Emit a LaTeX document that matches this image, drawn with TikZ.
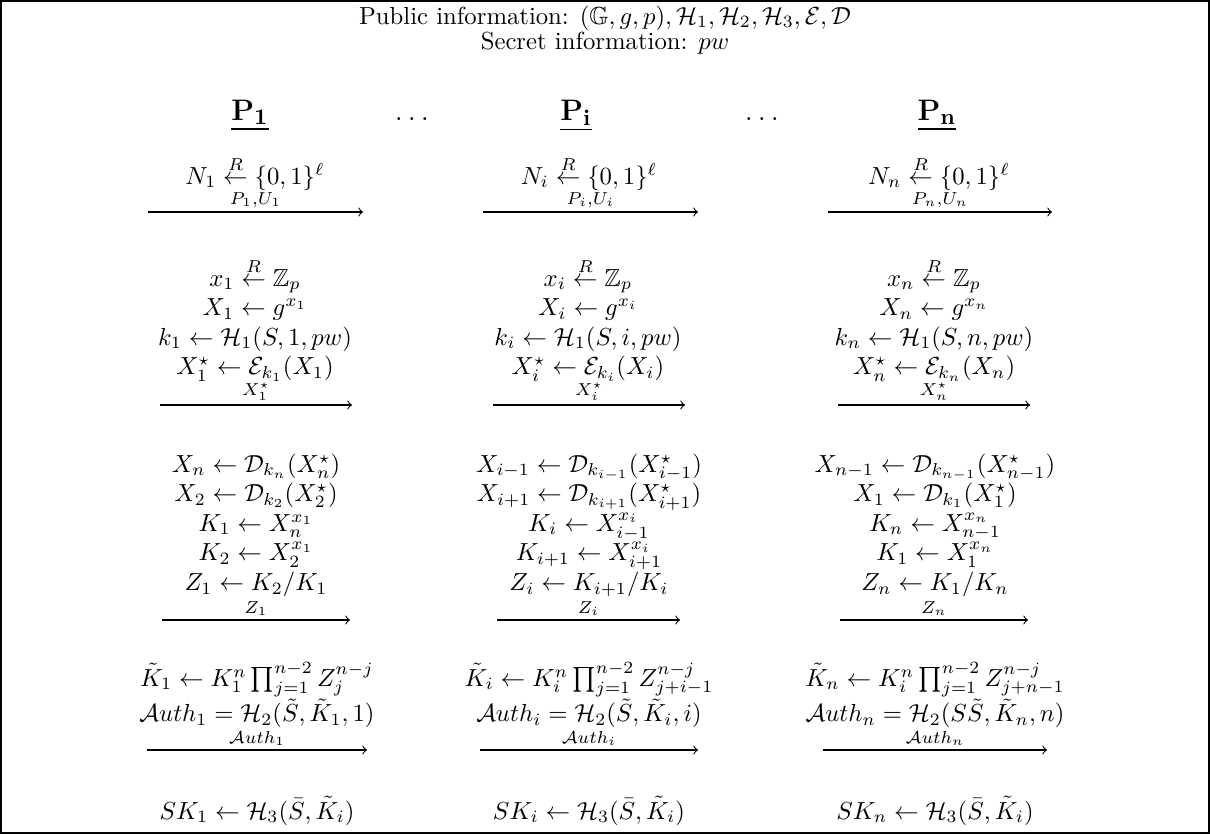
\documentclass[tikz,border=0pt]{standalone}
\usepackage{amsmath,amssymb}
\begin{document}
\begin{tikzpicture}[x=0.405pt,y=-0.405pt,
  blk/.style={anchor=base,inner sep=0pt},
  msg/.style={->,line width=0.45pt},
  lbl/.style={anchor=south,inner sep=0pt,yshift=1.5pt},
  hdr/.style={anchor=base,inner sep=0pt,font=\fontsize{13}{15}\selectfont}]
\useasboundingbox (0,0) rectangle (1210,834);
\draw[line width=0.8pt] (1,1) rectangle (1209,833);
% title
\node[blk] (pub) at (605,24) {Public information: $(\mathbb{G},g,p),\mathcal{H}_1,\mathcal{H}_2,\mathcal{H}_3,\mathcal{E},\mathcal{D}$};
\node[blk] (sec) at (605,49) {Secret information: $pw$};
% headers
\node[hdr] (h1) at (250,120) {$\underline{\mathbf{P_1}}$};
\node[hdr] (d1) at (412,120) {$\ldots$};
\node[hdr] (h2) at (576,120) {$\underline{\mathbf{P_i}}$};
\node[hdr] (d2) at (762,120) {$\ldots$};
\node[hdr] (h3) at (937,120) {$\underline{\mathbf{P_n}}$};
% row 1
\node[blk] (r1a) at (255,184) {$N_1 \stackrel{R}{\leftarrow} \{0,1\}^{\ell}$};
\node[blk] (r1b) at (589,184) {$N_i \stackrel{R}{\leftarrow} \{0,1\}^{\ell}$};
\node[blk] (r1c) at (939,184) {$N_n \stackrel{R}{\leftarrow} \{0,1\}^{\ell}$};
\coordinate (m1as) at (148,212); \coordinate (m1ae) at (363,212);
\coordinate (m1bs) at (483,212); \coordinate (m1be) at (698,212);
\coordinate (m1cs) at (828,212); \coordinate (m1ce) at (1052,212);
\draw[msg] (m1as) -- (m1ae) node[midway,lbl] (l1a) {$\scriptstyle P_1,U_1$};
\draw[msg] (m1bs) -- (m1be) node[midway,lbl] (l1b) {$\scriptstyle P_i,U_i$};
\draw[msg] (m1cs) -- (m1ce) node[midway,lbl] (l1c) {$\scriptstyle P_n,U_n$};
% row 2
\node[blk] (r2a) at (255,286) {$\begin{array}[t]{c}
 x_1 \stackrel{R}{\leftarrow} \mathbb{Z}_p\\
 X_1 \leftarrow g^{x_1}\\
 k_1 \leftarrow \mathcal{H}_1(S,1,pw)\\
 X_1^{\star} \leftarrow \mathcal{E}_{k_1}(X_1)
\end{array}$};
\node[blk] (r2b) at (588,286) {$\begin{array}[t]{c}
 x_i \stackrel{R}{\leftarrow} \mathbb{Z}_p\\
 X_i \leftarrow g^{x_i}\\
 k_i \leftarrow \mathcal{H}_1(S,i,pw)\\
 X_i^{\star} \leftarrow \mathcal{E}_{k_i}(X_i)
\end{array}$};
\node[blk] (r2c) at (934,286) {$\begin{array}[t]{c}
 x_n \stackrel{R}{\leftarrow} \mathbb{Z}_p\\
 X_n \leftarrow g^{x_n}\\
 k_n \leftarrow \mathcal{H}_1(S,n,pw)\\
 X_n^{\star} \leftarrow \mathcal{E}_{k_n}(X_n)
\end{array}$};
\coordinate (m2as) at (160,405); \coordinate (m2ae) at (352,405);
\coordinate (m2bs) at (493,405); \coordinate (m2be) at (685,405);
\coordinate (m2cs) at (838,405); \coordinate (m2ce) at (1030,405);
\draw[msg] (m2as) -- (m2ae) node[midway,lbl] (l2a) {$\scriptstyle X_1^{\star}$};
\draw[msg] (m2bs) -- (m2be) node[midway,lbl] (l2b) {$\scriptstyle X_i^{\star}$};
\draw[msg] (m2cs) -- (m2ce) node[midway,lbl] (l2c) {$\scriptstyle X_n^{\star}$};
% row 3
\node[blk] (r3a) at (256,472) {$\begin{array}[t]{c}
 X_n \leftarrow \mathcal{D}_{k_n}(X_n^{\star})\\
 X_2 \leftarrow \mathcal{D}_{k_2}(X_2^{\star})\\
 K_1 \leftarrow X_n^{x_1}\\
 K_2 \leftarrow X_2^{x_1}\\
 Z_1 \leftarrow K_2/K_1
\end{array}$};
\node[blk] (r3b) at (589,472) {$\begin{array}[t]{c}
 X_{i-1} \leftarrow \mathcal{D}_{k_{i-1}}(X_{i-1}^{\star})\\
 X_{i+1} \leftarrow \mathcal{D}_{k_{i+1}}(X_{i+1}^{\star})\\
 K_i \leftarrow X_{i-1}^{x_i}\\
 K_{i+1} \leftarrow X_{i+1}^{x_i}\\
 Z_i \leftarrow K_{i+1}/K_i
\end{array}$};
\node[blk] (r3c) at (935,472) {$\begin{array}[t]{c}
 X_{n-1} \leftarrow \mathcal{D}_{k_{n-1}}(X_{n-1}^{\star})\\
 X_1 \leftarrow \mathcal{D}_{k_1}(X_1^{\star})\\
 K_n \leftarrow X_{n-1}^{x_n}\\
 K_1 \leftarrow X_1^{x_n}\\
 Z_n \leftarrow K_1/K_n
\end{array}$};
\coordinate (m3as) at (162,620); \coordinate (m3ae) at (350,620);
\coordinate (m3bs) at (497,620); \coordinate (m3be) at (680,620);
\coordinate (m3cs) at (840,620); \coordinate (m3ce) at (1028,620);
\draw[msg] (m3as) -- (m3ae) node[midway,lbl] (l3a) {$\scriptstyle Z_1$};
\draw[msg] (m3bs) -- (m3be) node[midway,lbl] (l3b) {$\scriptstyle Z_i$};
\draw[msg] (m3cs) -- (m3ce) node[midway,lbl] (l3c) {$\scriptstyle Z_n$};
% row 4
\node[blk] (r4a) at (257,686) {$\begin{array}[t]{c}
 \tilde{K}_1 \leftarrow K_1^n \prod_{j=1}^{n-2} Z_j^{n-j}\\[1.5pt]
 \mathcal{A}uth_1 = \mathcal{H}_2(\tilde{S},\tilde{K}_1,1)
\end{array}$};
\node[blk] (r4b) at (589,686) {$\begin{array}[t]{c}
 \tilde{K}_i \leftarrow K_i^n \prod_{j=1}^{n-2} Z_{j+i-1}^{n-j}\\[1.5pt]
 \mathcal{A}uth_i = \mathcal{H}_2(\tilde{S},\tilde{K}_i,i)
\end{array}$};
\node[blk] (r4c) at (935,686) {$\begin{array}[t]{c}
 \tilde{K}_n \leftarrow K_i^n \prod_{j=1}^{n-2} Z_{j+n-1}^{n-j}\\[1.5pt]
 \mathcal{A}uth_n = \mathcal{H}_2(S\tilde{S},\tilde{K}_n,n)
\end{array}$};
\coordinate (m4as) at (147,750); \coordinate (m4ae) at (367,750);
\coordinate (m4bs) at (480,750); \coordinate (m4be) at (698,750);
\coordinate (m4cs) at (823,750); \coordinate (m4ce) at (1047,750);
\draw[msg] (m4as) -- (m4ae) node[midway,lbl] (l4a) {$\scriptstyle \mathcal{A}uth_1$};
\draw[msg] (m4bs) -- (m4be) node[midway,lbl] (l4b) {$\scriptstyle \mathcal{A}uth_i$};
\draw[msg] (m4cs) -- (m4ce) node[midway,lbl] (l4c) {$\scriptstyle \mathcal{A}uth_n$};
% row 5
\node[blk] (r5a) at (257,819) {$SK_1 \leftarrow \mathcal{H}_3(\bar{S},\tilde{K}_i)$};
\node[blk] (r5b) at (589,819) {$SK_i \leftarrow \mathcal{H}_3(\bar{S},\tilde{K}_i)$};
\node[blk] (r5c) at (935,819) {$SK_n \leftarrow \mathcal{H}_3(\bar{S},\tilde{K}_i)$};
\end{tikzpicture}
\end{document}
